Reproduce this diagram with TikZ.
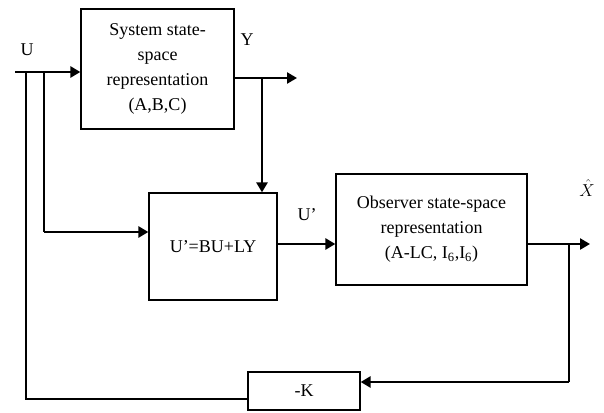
\documentclass[tikz,border=0pt]{standalone}
\usepackage{fontspec}
\setmainfont{Liberation Serif}
\usetikzlibrary{arrows.meta, positioning, calc}

\begin{document}
\begin{tikzpicture}[x=1pt, y=-1pt, >={Triangle[length=10pt, width=11pt]},
    block/.style={draw, line width=1.2pt, align=center, inner sep=2pt,
        font=\fontsize{18}{25}\selectfont},
    sig/.style={line width=2.6pt},
    wire/.style={line width=1.3pt},
    lbl/.style={font=\fontsize{18}{22}\selectfont}]
    \useasboundingbox (0,0) rectangle (604,412);

    % Blocks
    \node[block, minimum width=153pt, minimum height=120pt] (sys) at (157.5,69)
        {System state-\\space\\representation\\(A,B,C)};
    \node[block, minimum width=128pt, minimum height=107pt] (mid) at (213,246.5)
        {U'=BU+LY};
    \node[block, minimum width=191pt, minimum height=111pt] (obs) at (431.5,229.5)
        {Observer state-space\\representation\\(A-LC, I\textsubscript{6},I\textsubscript{6})};
    \node[block, minimum width=112pt, minimum height=38pt] (gain) at (304,391) {-K};

    % Signal points
    \coordinate (uin) at (15,72);
    \coordinate (uj) at (44,72);
    \coordinate (ucorner) at (44,232);
    \coordinate (yout) at (297,78);
    \coordinate (yj) at (262,78);
    \coordinate (xout) at (590,244);
    \coordinate (xj) at (569,244);
    \coordinate (kin) at (569,382);
    \coordinate (kout) at (26,399);

    % Forward path
    \draw[sig, ->] (uin) -- (uin -| sys.west);
    \draw[sig, ->] (yout -| sys.east) -- (yout);
    \draw[sig, ->] (yj) -- (yj |- mid.north);
    \draw[wire] (uj) -- (ucorner);
    \draw[sig, ->] (ucorner) -- (ucorner -| mid.west);
    \draw[sig, ->] (xout -| mid.east) -- (xout -| obs.west);
    \draw[sig, ->] (xout -| obs.east) -- (xout);

    % Feedback through -K
    \draw[sig] (xj) -- (kin);
    \draw[sig, ->] (kin) -- (kin -| gain.east);
    \draw[wire] (kout -| gain.west) -- (kout) -- (kout |- uin);

    % Signal labels
    \node[lbl] (ulbl) at (27,50) {U};
    \node[lbl] (ylbl) at (247,40) {Y};
    \node[lbl] (uplbl) at (307,215) {U'};
    \node[lbl] (xlbl) at (587,188) {$\hat{X}$};
\end{tikzpicture}
\end{document}
